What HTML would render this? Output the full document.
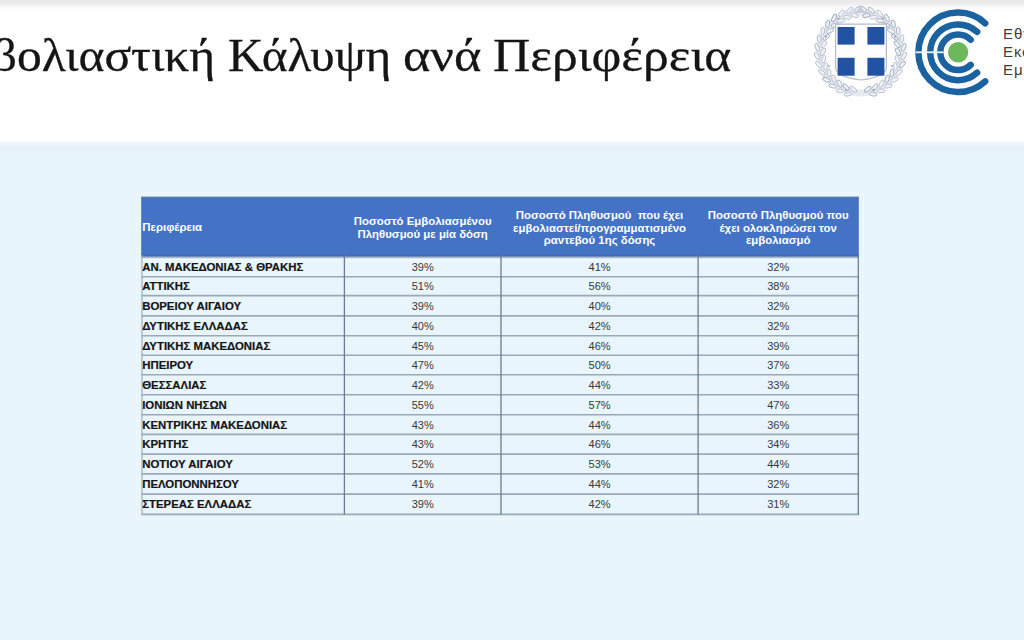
<!DOCTYPE html>
<html lang="el">
<head>
<meta charset="utf-8">
<title>Εμβολιαστική Κάλυψη ανά Περιφέρεια</title>
<style>
*{margin:0;padding:0;box-sizing:border-box}
html,body{width:1024px;height:640px;overflow:hidden;background:#fff}
body{position:relative;font-family:"Liberation Sans",Arial,sans-serif}
.topband{position:absolute;left:0;top:0;width:1024px;height:11px;background:linear-gradient(#e9e9e9 0px,#ebebeb 3px,#f7f7f7 6.5px,#fff 10px)}
.title{position:absolute;left:0;top:25.2px;width:1024px;height:60px;font-family:"Liberation Serif","Times New Roman",serif;font-size:47px;line-height:60px;color:#151515;white-space:nowrap;-webkit-text-stroke:0.3px #151515}
.title span{position:absolute;top:0;transform-origin:0 0}
.bluearea{position:absolute;left:0;top:140px;width:1024px;height:500px;background:linear-gradient(#fff 0px,#e9f1fa 5px,#e6f0f9 8px,#e7f4fc 14px,#e7f4fc)}
.logo{position:absolute;left:0;top:0}
.logotext{position:absolute;left:1003px;top:24.5px;font-size:15px;line-height:18.3px;letter-spacing:0.9px;color:#3d3d3d;white-space:nowrap}
.grid{position:absolute;left:0;top:0}
.h{position:absolute;color:#fff;font-weight:700;font-size:11.4px;line-height:12.5px;display:flex;align-items:center;white-space:nowrap}
.h1{padding-top:1px}
.hc{justify-content:center;text-align:center;padding-top:3.2px}
.r{position:absolute;display:flex;align-items:center;white-space:nowrap;padding-top:0.4px}
.rl{font-weight:700;font-size:11.4px;color:#141414;-webkit-text-stroke:0.2px #141414}
.rn{justify-content:center;font-size:11px;color:#383838}
</style>
</head>
<body>
<div class="topband"></div>
<div class="title"><span style="left:-65.1px;transform:scaleX(1.0536)">Εμβολιαστική</span> <span style="left:227.95px;transform:scaleX(1.0458)">Κάλυψη</span> <span style="left:403.3px;transform:scaleX(1.110)">ανά</span> <span style="left:493.1px;transform:scaleX(1.0977)">Περιφέρεια</span></div>
<div class="bluearea"></div>
<svg class="logo" width="1024" height="110" viewBox="0 0 1024 110">
<defs><filter id="bl" x="-10%" y="-10%" width="120%" height="120%"><feGaussianBlur stdDeviation="0.6"/></filter></defs><g filter="url(#bl)">
<circle cx="860.5" cy="52.5" r="40.5" fill="none" stroke="#e6eaf0" stroke-width="7"/>
<ellipse cx="853.3" cy="89.3" rx="4" ry="1.9" transform="rotate(-141 853.3 89.3)" fill="#eef1f5" stroke="#b3bccb" stroke-width="0.9"/>
<ellipse cx="847.9" cy="94.1" rx="4" ry="1.9" transform="rotate(-191 847.9 94.1)" fill="#eef1f5" stroke="#b3bccb" stroke-width="0.9"/>
<ellipse cx="846.1" cy="87.1" rx="4" ry="1.9" transform="rotate(-130 846.1 87.1)" fill="#eef1f5" stroke="#9da8bb" stroke-width="0.9"/>
<ellipse cx="839.9" cy="90.8" rx="4" ry="1.9" transform="rotate(-180 839.9 90.8)" fill="#eef1f5" stroke="#bcc4d1" stroke-width="0.9"/>
<ellipse cx="839.5" cy="83.6" rx="4" ry="1.9" transform="rotate(-118 839.5 83.6)" fill="#eef1f5" stroke="#a9b3c4" stroke-width="0.9"/>
<ellipse cx="832.7" cy="86.0" rx="4" ry="1.9" transform="rotate(-168 832.7 86.0)" fill="#eef1f5" stroke="#a9b3c4" stroke-width="0.9"/>
<ellipse cx="833.8" cy="78.8" rx="4" ry="1.9" transform="rotate(-107 833.8 78.8)" fill="#eef1f5" stroke="#bcc4d1" stroke-width="0.9"/>
<ellipse cx="826.6" cy="79.8" rx="4" ry="1.9" transform="rotate(-157 826.6 79.8)" fill="#eef1f5" stroke="#9da8bb" stroke-width="0.9"/>
<ellipse cx="829.1" cy="73.0" rx="4" ry="1.9" transform="rotate(-95 829.1 73.0)" fill="#eef1f5" stroke="#b3bccb" stroke-width="0.9"/>
<ellipse cx="821.9" cy="72.5" rx="4" ry="1.9" transform="rotate(-145 821.9 72.5)" fill="#eef1f5" stroke="#b3bccb" stroke-width="0.9"/>
<ellipse cx="825.7" cy="66.4" rx="4" ry="1.9" transform="rotate(-84 825.7 66.4)" fill="#eef1f5" stroke="#bcc4d1" stroke-width="0.9"/>
<ellipse cx="818.7" cy="64.5" rx="4" ry="1.9" transform="rotate(-134 818.7 64.5)" fill="#eef1f5" stroke="#bcc4d1" stroke-width="0.9"/>
<ellipse cx="823.6" cy="59.2" rx="4" ry="1.9" transform="rotate(-72 823.6 59.2)" fill="#eef1f5" stroke="#bcc4d1" stroke-width="0.9"/>
<ellipse cx="817.1" cy="56.0" rx="4" ry="1.9" transform="rotate(-122 817.1 56.0)" fill="#eef1f5" stroke="#b3bccb" stroke-width="0.9"/>
<ellipse cx="823.0" cy="51.8" rx="4" ry="1.9" transform="rotate(-61 823.0 51.8)" fill="#eef1f5" stroke="#b3bccb" stroke-width="0.9"/>
<ellipse cx="817.3" cy="47.3" rx="4" ry="1.9" transform="rotate(-111 817.3 47.3)" fill="#eef1f5" stroke="#b3bccb" stroke-width="0.9"/>
<ellipse cx="823.9" cy="44.3" rx="4" ry="1.9" transform="rotate(-50 823.9 44.3)" fill="#eef1f5" stroke="#bcc4d1" stroke-width="0.9"/>
<ellipse cx="819.2" cy="38.8" rx="4" ry="1.9" transform="rotate(-100 819.2 38.8)" fill="#eef1f5" stroke="#a9b3c4" stroke-width="0.9"/>
<ellipse cx="826.2" cy="37.3" rx="4" ry="1.9" transform="rotate(-38 826.2 37.3)" fill="#eef1f5" stroke="#a9b3c4" stroke-width="0.9"/>
<ellipse cx="822.7" cy="30.9" rx="4" ry="1.9" transform="rotate(-88 822.7 30.9)" fill="#eef1f5" stroke="#b3bccb" stroke-width="0.9"/>
<ellipse cx="829.9" cy="30.8" rx="4" ry="1.9" transform="rotate(-27 829.9 30.8)" fill="#eef1f5" stroke="#a9b3c4" stroke-width="0.9"/>
<ellipse cx="827.7" cy="23.9" rx="4" ry="1.9" transform="rotate(-77 827.7 23.9)" fill="#eef1f5" stroke="#9da8bb" stroke-width="0.9"/>
<ellipse cx="834.9" cy="25.1" rx="4" ry="1.9" transform="rotate(-15 834.9 25.1)" fill="#eef1f5" stroke="#a9b3c4" stroke-width="0.9"/>
<ellipse cx="834.1" cy="18.0" rx="4" ry="1.9" transform="rotate(-65 834.1 18.0)" fill="#eef1f5" stroke="#9da8bb" stroke-width="0.9"/>
<ellipse cx="840.8" cy="20.6" rx="4" ry="1.9" transform="rotate(-4 840.8 20.6)" fill="#eef1f5" stroke="#bcc4d1" stroke-width="0.9"/>
<ellipse cx="841.4" cy="13.4" rx="4" ry="1.9" transform="rotate(-54 841.4 13.4)" fill="#eef1f5" stroke="#bcc4d1" stroke-width="0.9"/>
<ellipse cx="847.5" cy="17.3" rx="4" ry="1.9" transform="rotate(8 847.5 17.3)" fill="#eef1f5" stroke="#bcc4d1" stroke-width="0.9"/>
<ellipse cx="849.6" cy="10.4" rx="4" ry="1.9" transform="rotate(-42 849.6 10.4)" fill="#eef1f5" stroke="#bcc4d1" stroke-width="0.9"/>
<ellipse cx="854.7" cy="15.4" rx="4" ry="1.9" transform="rotate(19 854.7 15.4)" fill="#eef1f5" stroke="#bcc4d1" stroke-width="0.9"/>
<ellipse cx="858.1" cy="9.1" rx="4" ry="1.9" transform="rotate(-31 858.1 9.1)" fill="#eef1f5" stroke="#b3bccb" stroke-width="0.9"/>
<ellipse cx="867.7" cy="89.3" rx="4" ry="1.9" transform="rotate(-39 867.7 89.3)" fill="#eef1f5" stroke="#9da8bb" stroke-width="0.9"/>
<ellipse cx="873.1" cy="94.1" rx="4" ry="1.9" transform="rotate(11 873.1 94.1)" fill="#eef1f5" stroke="#a9b3c4" stroke-width="0.9"/>
<ellipse cx="874.9" cy="87.1" rx="4" ry="1.9" transform="rotate(-50 874.9 87.1)" fill="#eef1f5" stroke="#a9b3c4" stroke-width="0.9"/>
<ellipse cx="881.1" cy="90.8" rx="4" ry="1.9" transform="rotate(-0 881.1 90.8)" fill="#eef1f5" stroke="#b3bccb" stroke-width="0.9"/>
<ellipse cx="881.5" cy="83.6" rx="4" ry="1.9" transform="rotate(-62 881.5 83.6)" fill="#eef1f5" stroke="#bcc4d1" stroke-width="0.9"/>
<ellipse cx="888.3" cy="86.0" rx="4" ry="1.9" transform="rotate(-12 888.3 86.0)" fill="#eef1f5" stroke="#b3bccb" stroke-width="0.9"/>
<ellipse cx="887.2" cy="78.8" rx="4" ry="1.9" transform="rotate(-73 887.2 78.8)" fill="#eef1f5" stroke="#9da8bb" stroke-width="0.9"/>
<ellipse cx="894.4" cy="79.8" rx="4" ry="1.9" transform="rotate(-23 894.4 79.8)" fill="#eef1f5" stroke="#bcc4d1" stroke-width="0.9"/>
<ellipse cx="891.9" cy="73.0" rx="4" ry="1.9" transform="rotate(-85 891.9 73.0)" fill="#eef1f5" stroke="#9da8bb" stroke-width="0.9"/>
<ellipse cx="899.1" cy="72.5" rx="4" ry="1.9" transform="rotate(-35 899.1 72.5)" fill="#eef1f5" stroke="#bcc4d1" stroke-width="0.9"/>
<ellipse cx="895.3" cy="66.4" rx="4" ry="1.9" transform="rotate(-96 895.3 66.4)" fill="#eef1f5" stroke="#bcc4d1" stroke-width="0.9"/>
<ellipse cx="902.3" cy="64.5" rx="4" ry="1.9" transform="rotate(-46 902.3 64.5)" fill="#eef1f5" stroke="#9da8bb" stroke-width="0.9"/>
<ellipse cx="897.4" cy="59.2" rx="4" ry="1.9" transform="rotate(-108 897.4 59.2)" fill="#eef1f5" stroke="#bcc4d1" stroke-width="0.9"/>
<ellipse cx="903.9" cy="56.0" rx="4" ry="1.9" transform="rotate(-58 903.9 56.0)" fill="#eef1f5" stroke="#b3bccb" stroke-width="0.9"/>
<ellipse cx="898.0" cy="51.8" rx="4" ry="1.9" transform="rotate(-119 898.0 51.8)" fill="#eef1f5" stroke="#9da8bb" stroke-width="0.9"/>
<ellipse cx="903.7" cy="47.3" rx="4" ry="1.9" transform="rotate(-69 903.7 47.3)" fill="#eef1f5" stroke="#a9b3c4" stroke-width="0.9"/>
<ellipse cx="897.1" cy="44.3" rx="4" ry="1.9" transform="rotate(-130 897.1 44.3)" fill="#eef1f5" stroke="#9da8bb" stroke-width="0.9"/>
<ellipse cx="901.8" cy="38.8" rx="4" ry="1.9" transform="rotate(-80 901.8 38.8)" fill="#eef1f5" stroke="#b3bccb" stroke-width="0.9"/>
<ellipse cx="894.8" cy="37.3" rx="4" ry="1.9" transform="rotate(-142 894.8 37.3)" fill="#eef1f5" stroke="#9da8bb" stroke-width="0.9"/>
<ellipse cx="898.3" cy="30.9" rx="4" ry="1.9" transform="rotate(-92 898.3 30.9)" fill="#eef1f5" stroke="#a9b3c4" stroke-width="0.9"/>
<ellipse cx="891.1" cy="30.8" rx="4" ry="1.9" transform="rotate(-153 891.1 30.8)" fill="#eef1f5" stroke="#b3bccb" stroke-width="0.9"/>
<ellipse cx="893.3" cy="23.9" rx="4" ry="1.9" transform="rotate(-103 893.3 23.9)" fill="#eef1f5" stroke="#9da8bb" stroke-width="0.9"/>
<ellipse cx="886.1" cy="25.1" rx="4" ry="1.9" transform="rotate(-165 886.1 25.1)" fill="#eef1f5" stroke="#9da8bb" stroke-width="0.9"/>
<ellipse cx="886.9" cy="18.0" rx="4" ry="1.9" transform="rotate(-115 886.9 18.0)" fill="#eef1f5" stroke="#a9b3c4" stroke-width="0.9"/>
<ellipse cx="880.2" cy="20.6" rx="4" ry="1.9" transform="rotate(-176 880.2 20.6)" fill="#eef1f5" stroke="#a9b3c4" stroke-width="0.9"/>
<ellipse cx="879.6" cy="13.4" rx="4" ry="1.9" transform="rotate(-126 879.6 13.4)" fill="#eef1f5" stroke="#bcc4d1" stroke-width="0.9"/>
<ellipse cx="873.5" cy="17.3" rx="4" ry="1.9" transform="rotate(-188 873.5 17.3)" fill="#eef1f5" stroke="#bcc4d1" stroke-width="0.9"/>
<ellipse cx="871.4" cy="10.4" rx="4" ry="1.9" transform="rotate(-138 871.4 10.4)" fill="#eef1f5" stroke="#a9b3c4" stroke-width="0.9"/>
<ellipse cx="866.3" cy="15.4" rx="4" ry="1.9" transform="rotate(-199 866.3 15.4)" fill="#eef1f5" stroke="#9da8bb" stroke-width="0.9"/>
<ellipse cx="862.9" cy="9.1" rx="4" ry="1.9" transform="rotate(-149 862.9 9.1)" fill="#eef1f5" stroke="#a9b3c4" stroke-width="0.9"/>
<circle cx="838.5" cy="18.5" r="1.1" fill="#7f8ca5" opacity="0.7"/>
<circle cx="826" cy="36.8" r="1.1" fill="#7f8ca5" opacity="0.7"/>
<circle cx="883" cy="18" r="1.1" fill="#7f8ca5" opacity="0.7"/>
<circle cx="895" cy="37" r="1.1" fill="#7f8ca5" opacity="0.7"/>
<circle cx="829" cy="66" r="1.1" fill="#7f8ca5" opacity="0.7"/>
<circle cx="892" cy="66" r="1.1" fill="#7f8ca5" opacity="0.7"/>
<circle cx="846" cy="90" r="1.1" fill="#7f8ca5" opacity="0.7"/>
<circle cx="874" cy="90" r="1.1" fill="#7f8ca5" opacity="0.7"/>
<circle cx="860" cy="10" r="1.1" fill="#7f8ca5" opacity="0.7"/>
<path d="M855 13 L860 6 L866 13 Z" fill="#c8cfdc"/>
<path d="M835.6 24.2 H886.4 V67 Q886.4 77 861 80 Q835.6 77 835.6 67 Z" fill="#fdfdfe" stroke="#b3bccc" stroke-width="1.2"/>
<rect x="837.6" y="27" width="17" height="17.6" fill="#2152a2"/>
<rect x="867.4" y="27" width="17" height="17.6" fill="#2152a2"/>
<rect x="837.6" y="57.8" width="17" height="17.9" fill="#2152a2"/>
<rect x="867.4" y="57.8" width="17" height="17.9" fill="#2152a2"/>
</g>
  <g fill="none" stroke="#1a63a0" stroke-width="6.5" stroke-linecap="round">
    <path d="M985.18 23.27 A39.7 39.7 0 1 0 985.18 81.33"/>
    <path d="M977.13 31.90 A27.9 27.9 0 1 0 977.13 72.70"/>
    <path d="M970.69 39.71 A17.8 17.8 0 1 0 970.69 64.89"/>
  </g>
  <rect x="915.4" y="51.4" width="28.2" height="1.8" fill="#e6f2f8"/>
  <circle cx="958.1" cy="52.3" r="10.2" fill="#6cb85a"/>
</svg>
<div class="logotext">Εθνική<br>Εκστρατεία<br>Εμβολιασμού</div>
<svg class="grid" width="1024" height="640" viewBox="0 0 1024 640">
<rect x="136.8" y="193.2" width="726.4000000000001" height="326.00000000000006" fill="#e9f5fd" stroke="#f2f9fe" stroke-width="1.2" stroke-opacity="0.7"/>
<rect x="141.2" y="256.0" width="717.5999999999999" height="258.4" fill="#e9f5fd"/>
<rect x="141.2" y="196.8" width="717.5999999999999" height="59.19999999999999" fill="#4473c6"/>
<defs><linearGradient id="hb" x1="0" y1="0" x2="0" y2="1"><stop offset="0" stop-color="#4470c0"/><stop offset="0.3" stop-color="#4269b5"/><stop offset="0.55" stop-color="#7f97b9"/><stop offset="0.8" stop-color="#c2d2df"/><stop offset="1" stop-color="#eef9fe"/></linearGradient></defs>
<rect x="141.2" y="254.0" width="717.5999999999999" height="5" fill="url(#hb)"/>
<rect x="141.2" y="259.0" width="717.5999999999999" height="3" fill="#eef9fe" opacity="0.7"/>
<rect x="141.2" y="196.8" width="717.5999999999999" height="1.5" fill="#5a78ae"/>
<line x1="141.2" y1="276.75" x2="859.0999999999999" y2="276.75" stroke="#9aa9b7" stroke-width="1.6"/>
<line x1="141.2" y1="295.6" x2="859.0999999999999" y2="295.6" stroke="#9aa9b7" stroke-width="1.6"/>
<line x1="141.2" y1="315.9" x2="859.0999999999999" y2="315.9" stroke="#9aa9b7" stroke-width="1.6"/>
<line x1="141.2" y1="335.75" x2="859.0999999999999" y2="335.75" stroke="#9aa9b7" stroke-width="1.6"/>
<line x1="141.2" y1="355.3" x2="859.0999999999999" y2="355.3" stroke="#9aa9b7" stroke-width="1.6"/>
<line x1="141.2" y1="374.7" x2="859.0999999999999" y2="374.7" stroke="#9aa9b7" stroke-width="1.6"/>
<line x1="141.2" y1="394.8" x2="859.0999999999999" y2="394.8" stroke="#9aa9b7" stroke-width="1.6"/>
<line x1="141.2" y1="414.7" x2="859.0999999999999" y2="414.7" stroke="#9aa9b7" stroke-width="1.6"/>
<line x1="141.2" y1="434.4" x2="859.0999999999999" y2="434.4" stroke="#9aa9b7" stroke-width="1.6"/>
<line x1="141.2" y1="454.1" x2="859.0999999999999" y2="454.1" stroke="#9aa9b7" stroke-width="1.6"/>
<line x1="141.2" y1="473.9" x2="859.0999999999999" y2="473.9" stroke="#9aa9b7" stroke-width="1.6"/>
<line x1="141.2" y1="494.1" x2="859.0999999999999" y2="494.1" stroke="#9aa9b7" stroke-width="1.6"/>
<line x1="141.2" y1="514.4" x2="859.0999999999999" y2="514.4" stroke="#9aa9b7" stroke-width="1.6"/>
<line x1="142.0" y1="255.0" x2="142.0" y2="514.4" stroke="#a3b1bf" stroke-width="1.3"/>
<line x1="344.4" y1="255.0" x2="344.4" y2="514.4" stroke="#687e96" stroke-width="1.3"/>
<line x1="501.0" y1="255.0" x2="501.0" y2="514.4" stroke="#687e96" stroke-width="1.3"/>
<line x1="698.1" y1="255.0" x2="698.1" y2="514.4" stroke="#687e96" stroke-width="1.3"/>
<line x1="858.3" y1="255.0" x2="858.3" y2="514.4" stroke="#687e96" stroke-width="1.3"/>
</svg>
<div class="h h1" style="left:142.3px;top:196.8px;width:200px;height:59.19999999999999px">Περιφέρεια</div>
<div class="h hc" style="left:344.4px;top:196.8px;width:156.6px;height:59.19999999999999px"><span>Ποσοστό Εμβολιασμένου<br>Πληθυσμού με μία δόση</span></div>
<div class="h hc" style="left:501.0px;top:196.8px;width:197.1px;height:59.19999999999999px"><span>Ποσοστό Πληθυσμού&nbsp; που έχει<br>εμβολιαστεί/προγραμματισμένο<br>ραντεβού 1ης δόσης</span></div>
<div class="h hc" style="left:698.1px;top:196.8px;width:160.2px;height:59.19999999999999px"><span>Ποσοστό Πληθυσμού που<br>έχει ολοκληρώσει τον<br>εμβολιασμό</span></div>
<div class="r rl" style="left:142.2px;top:256.00px;height:20.75px">ΑΝ. ΜΑΚΕΔΟΝΙΑΣ &amp; ΘΡΑΚΗΣ</div>
<div class="r rn" style="left:344.4px;top:256.00px;width:156.6px;height:20.75px">39%</div>
<div class="r rn" style="left:501.0px;top:256.00px;width:197.1px;height:20.75px">41%</div>
<div class="r rn" style="left:698.1px;top:256.00px;width:160.2px;height:20.75px">32%</div>
<div class="r rl" style="left:142.2px;top:276.75px;height:18.85px">ΑΤΤΙΚΗΣ</div>
<div class="r rn" style="left:344.4px;top:276.75px;width:156.6px;height:18.85px">51%</div>
<div class="r rn" style="left:501.0px;top:276.75px;width:197.1px;height:18.85px">56%</div>
<div class="r rn" style="left:698.1px;top:276.75px;width:160.2px;height:18.85px">38%</div>
<div class="r rl" style="left:142.2px;top:295.60px;height:20.30px">ΒΟΡΕΙΟΥ ΑΙΓΑΙΟΥ</div>
<div class="r rn" style="left:344.4px;top:295.60px;width:156.6px;height:20.30px">39%</div>
<div class="r rn" style="left:501.0px;top:295.60px;width:197.1px;height:20.30px">40%</div>
<div class="r rn" style="left:698.1px;top:295.60px;width:160.2px;height:20.30px">32%</div>
<div class="r rl" style="left:142.2px;top:315.90px;height:19.85px">ΔΥΤΙΚΗΣ ΕΛΛΑΔΑΣ</div>
<div class="r rn" style="left:344.4px;top:315.90px;width:156.6px;height:19.85px">40%</div>
<div class="r rn" style="left:501.0px;top:315.90px;width:197.1px;height:19.85px">42%</div>
<div class="r rn" style="left:698.1px;top:315.90px;width:160.2px;height:19.85px">32%</div>
<div class="r rl" style="left:142.2px;top:335.75px;height:19.55px">ΔΥΤΙΚΗΣ ΜΑΚΕΔΟΝΙΑΣ</div>
<div class="r rn" style="left:344.4px;top:335.75px;width:156.6px;height:19.55px">45%</div>
<div class="r rn" style="left:501.0px;top:335.75px;width:197.1px;height:19.55px">46%</div>
<div class="r rn" style="left:698.1px;top:335.75px;width:160.2px;height:19.55px">39%</div>
<div class="r rl" style="left:142.2px;top:355.30px;height:19.40px">ΗΠΕΙΡΟΥ</div>
<div class="r rn" style="left:344.4px;top:355.30px;width:156.6px;height:19.40px">47%</div>
<div class="r rn" style="left:501.0px;top:355.30px;width:197.1px;height:19.40px">50%</div>
<div class="r rn" style="left:698.1px;top:355.30px;width:160.2px;height:19.40px">37%</div>
<div class="r rl" style="left:142.2px;top:374.70px;height:20.10px">ΘΕΣΣΑΛΙΑΣ</div>
<div class="r rn" style="left:344.4px;top:374.70px;width:156.6px;height:20.10px">42%</div>
<div class="r rn" style="left:501.0px;top:374.70px;width:197.1px;height:20.10px">44%</div>
<div class="r rn" style="left:698.1px;top:374.70px;width:160.2px;height:20.10px">33%</div>
<div class="r rl" style="left:142.2px;top:394.80px;height:19.90px">ΙΟΝΙΩΝ ΝΗΣΩΝ</div>
<div class="r rn" style="left:344.4px;top:394.80px;width:156.6px;height:19.90px">55%</div>
<div class="r rn" style="left:501.0px;top:394.80px;width:197.1px;height:19.90px">57%</div>
<div class="r rn" style="left:698.1px;top:394.80px;width:160.2px;height:19.90px">47%</div>
<div class="r rl" style="left:142.2px;top:414.70px;height:19.70px">ΚΕΝΤΡΙΚΗΣ ΜΑΚΕΔΟΝΙΑΣ</div>
<div class="r rn" style="left:344.4px;top:414.70px;width:156.6px;height:19.70px">43%</div>
<div class="r rn" style="left:501.0px;top:414.70px;width:197.1px;height:19.70px">44%</div>
<div class="r rn" style="left:698.1px;top:414.70px;width:160.2px;height:19.70px">36%</div>
<div class="r rl" style="left:142.2px;top:434.40px;height:19.70px">ΚΡΗΤΗΣ</div>
<div class="r rn" style="left:344.4px;top:434.40px;width:156.6px;height:19.70px">43%</div>
<div class="r rn" style="left:501.0px;top:434.40px;width:197.1px;height:19.70px">46%</div>
<div class="r rn" style="left:698.1px;top:434.40px;width:160.2px;height:19.70px">34%</div>
<div class="r rl" style="left:142.2px;top:454.10px;height:19.80px">ΝΟΤΙΟΥ ΑΙΓΑΙΟΥ</div>
<div class="r rn" style="left:344.4px;top:454.10px;width:156.6px;height:19.80px">52%</div>
<div class="r rn" style="left:501.0px;top:454.10px;width:197.1px;height:19.80px">53%</div>
<div class="r rn" style="left:698.1px;top:454.10px;width:160.2px;height:19.80px">44%</div>
<div class="r rl" style="left:142.2px;top:473.90px;height:20.20px">ΠΕΛΟΠΟΝΝΗΣΟΥ</div>
<div class="r rn" style="left:344.4px;top:473.90px;width:156.6px;height:20.20px">41%</div>
<div class="r rn" style="left:501.0px;top:473.90px;width:197.1px;height:20.20px">44%</div>
<div class="r rn" style="left:698.1px;top:473.90px;width:160.2px;height:20.20px">32%</div>
<div class="r rl" style="left:142.2px;top:494.10px;height:20.30px">ΣΤΕΡΕΑΣ ΕΛΛΑΔΑΣ</div>
<div class="r rn" style="left:344.4px;top:494.10px;width:156.6px;height:20.30px">39%</div>
<div class="r rn" style="left:501.0px;top:494.10px;width:197.1px;height:20.30px">42%</div>
<div class="r rn" style="left:698.1px;top:494.10px;width:160.2px;height:20.30px">31%</div>
</body>
</html>
